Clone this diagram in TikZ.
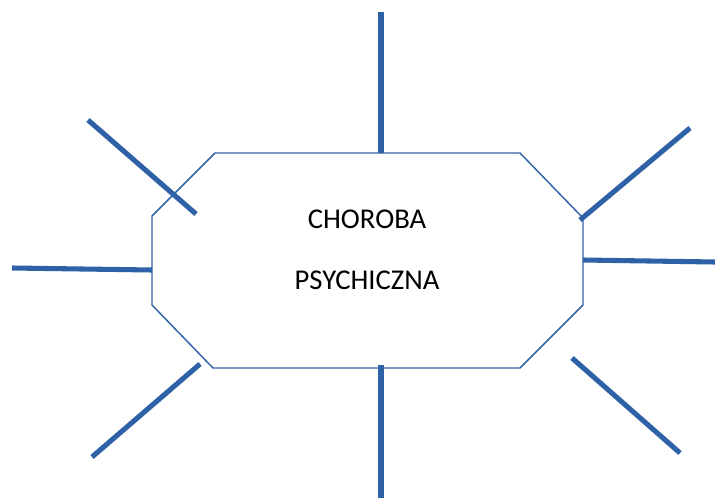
\documentclass[tikz,border=0pt]{standalone}
\usepackage{fontspec}
\setmainfont{Carlito}
\usetikzlibrary{calc}
\usetikzlibrary{positioning}
\definecolor{spokeblue}{RGB}{47, 97, 166}
\definecolor{edgeblue}{RGB}{52, 100, 168}

\tikzset{
    spoke/.style={color=spokeblue, line width=3.8pt},
    rim/.style={color=edgeblue, line width=1.1pt, line join=miter},
}

\begin{document}
\begin{tikzpicture}[x=0.75pt, y=-0.75pt]
            % Frame to ensure alignment:
            \useasboundingbox                     (0, 0) rectangle (715, 500);
            \draw[rim, fill=white]   (215, 153) -- (520, 153) -- (583, 218) -- (583, 305)
                                  -- (520, 368) -- (213, 368) -- (152, 305) -- (152, 216) -- cycle;
            \node[align=center, font=\fontsize{21.5}{45.5}\selectfont] (label) at (367, 250)
                 {CHOROBA\\PSYCHICZNA};
            % Spokes:
            \foreach \name/\a/\b in {top/{381, 12}/{381, 153},
                                     upleft/{88, 120}/{196, 214},
                                     left/{12, 268}/{152, 270},
                                     lowleft/{92, 457}/{200, 364},
                                     bottom/{381, 365}/{381, 498},
                                     lowright/{572, 358}/{680, 453},
                                     right/{583, 260}/{715, 262},
                                     upright/{580, 220}/{690, 128}}
                {
                 \coordinate (\name-out) at (\a);
                 \coordinate (\name-in)  at (\b);
                 \draw[spoke] (\name-out) -- (\name-in);
                }
        \end{tikzpicture}
\end{document}
